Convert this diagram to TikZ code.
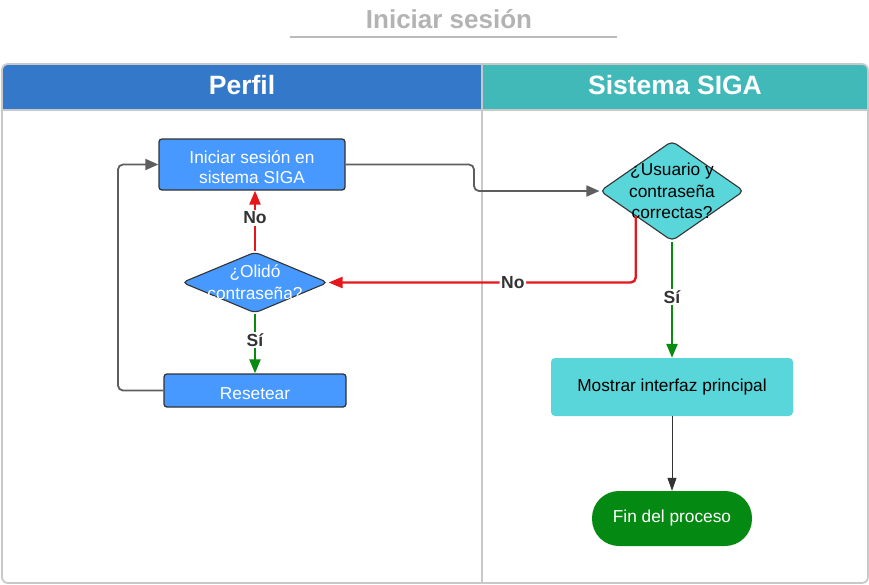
\documentclass[tikz,border=0pt]{standalone}
\usepackage{fontspec}
\setmainfont{Liberation Sans}
\usetikzlibrary{arrows.meta,shapes.geometric}

\definecolor{perfilazul}{HTML}{3479C9}
\definecolor{sigaturq}{HTML}{41B9B9}
\definecolor{cajaazul}{HTML}{4799FF}
\definecolor{cajaturq}{HTML}{59D6D9}
\definecolor{finverde}{HTML}{048A12}
\definecolor{grislinea}{HTML}{5E5E5E}
\definecolor{rojo}{HTML}{E5171B}
\definecolor{verde}{HTML}{0B8A12}
\definecolor{borde}{HTML}{C9C9C9}
\definecolor{titulogris}{HTML}{B3B3B3}

\begin{document}
\begin{tikzpicture}[x=1pt,y=-1pt,
  every node/.style={inner sep=0pt,font=\fontsize{17.3}{19.5}\selectfont},
  proc/.style={draw=black!80,line width=1.3pt,rounded corners=3pt,fill=cajaazul},
  decision/.style={diamond,draw=black!80,line width=1.1pt,rounded corners=5pt,inner sep=0pt},
  flujo/.style={draw=grislinea,line width=1.8pt,rounded corners=5pt,-{Triangle[length=13pt,width=11pt]}},
  sino/.style={line width=2.4pt,-{Triangle[length=14pt,width=11pt]}},
  encabezado/.style={text=white,font=\fontsize{26.5}{30}\bfseries\selectfont},
  etiqueta/.style={fill=white,inner sep=1.5pt,text=black!80,font=\fontsize{17.5}{20}\bfseries\selectfont}]
\useasboundingbox (0,0) rectangle (869,584);
\node[text=titulogris,font=\fontsize{26}{30}\bfseries\selectfont] (titulo) at (449,19) {Iniciar sesión};
\draw[titulogris!90,line width=2pt] (290,37) -- (617,37);
\begin{scope}
\clip[rounded corners=6pt] (2,64) rectangle (868,583);
\fill[perfilazul] (2,64) rectangle (482,110);
\fill[sigaturq] (482,64) rectangle (868,110);
\end{scope}
\draw[borde,line width=1.5pt] (2,110) -- (868,110);
\draw[borde,line width=1.5pt] (482,64) -- (482,583);
\draw[borde,line width=1.8pt,rounded corners=6pt] (2,64) rectangle (868,583);
\node[encabezado] (perfil) at (242,85) {Perfil};
\node[encabezado] (siga) at (675,85) {Sistema SIGA};
\node[proc,minimum width=186pt,minimum height=51pt,
  label={[text=white,align=center,yshift=-2.5pt]center:Iniciar sesión en\\sistema SIGA}] (inicio) at (252,164.5) {};
\node[decision,fill=cajaazul,minimum width=146pt,minimum height=61pt,
  label={[text=white,align=center,font=\fontsize{17.3}{22}\selectfont]center:¿Olidó\\contraseña?}] (olvido) at (255,282.5) {};
\node[proc,minimum width=182pt,minimum height=33pt,
  label={[text=white,yshift=-3pt]center:Resetear}] (resetear) at (255,390.5) {};
\node[decision,fill=cajaturq,minimum width=144pt,minimum height=100pt,
  label={[align=center,font=\fontsize{17.3}{21.5}\selectfont]center:¿Usuario y\\contraseña\\correctas?}] (usuario) at (672,191) {};
\node[fill=cajaturq,rounded corners=4pt,minimum width=242pt,minimum height=58pt] (mostrar) at (672,387) {Mostrar interfaz principal};
\node[fill=finverde,text=white,rounded corners=27pt,minimum width=160pt,minimum height=55pt] (fin) at (672,518.5) {Fin del proceso};
\coordinate (quiebre) at (474,0);
\coordinate (retorno) at (118,0);
\draw[flujo] (inicio.east) -- (inicio.east -| quiebre) |- (usuario.west);
\draw[flujo] (resetear.west) -- (resetear.west -| retorno) |- (inicio.west);
\draw[sino,draw=rojo,color=rojo] (olvido.north) -- node[etiqueta,pos=0.55] {No} (olvido.north |- inicio.south);
\draw[sino,draw=verde,color=verde] (olvido.south) -- node[etiqueta,pos=0.44] {Sí} (resetear.north);
\draw[sino,draw=rojo,color=rojo,rounded corners=5pt] (usuario.south west) |- node[etiqueta,pos=0.7] {No} (olvido.east);
\draw[sino,draw=verde,color=verde] (usuario.south) -- node[etiqueta,pos=0.48] {Sí} (mostrar.north);
\draw[black!80,line width=1pt,-{Triangle[length=13pt,width=9pt]}] (mostrar.south) -- (fin.north);
\end{tikzpicture}
\end{document}
